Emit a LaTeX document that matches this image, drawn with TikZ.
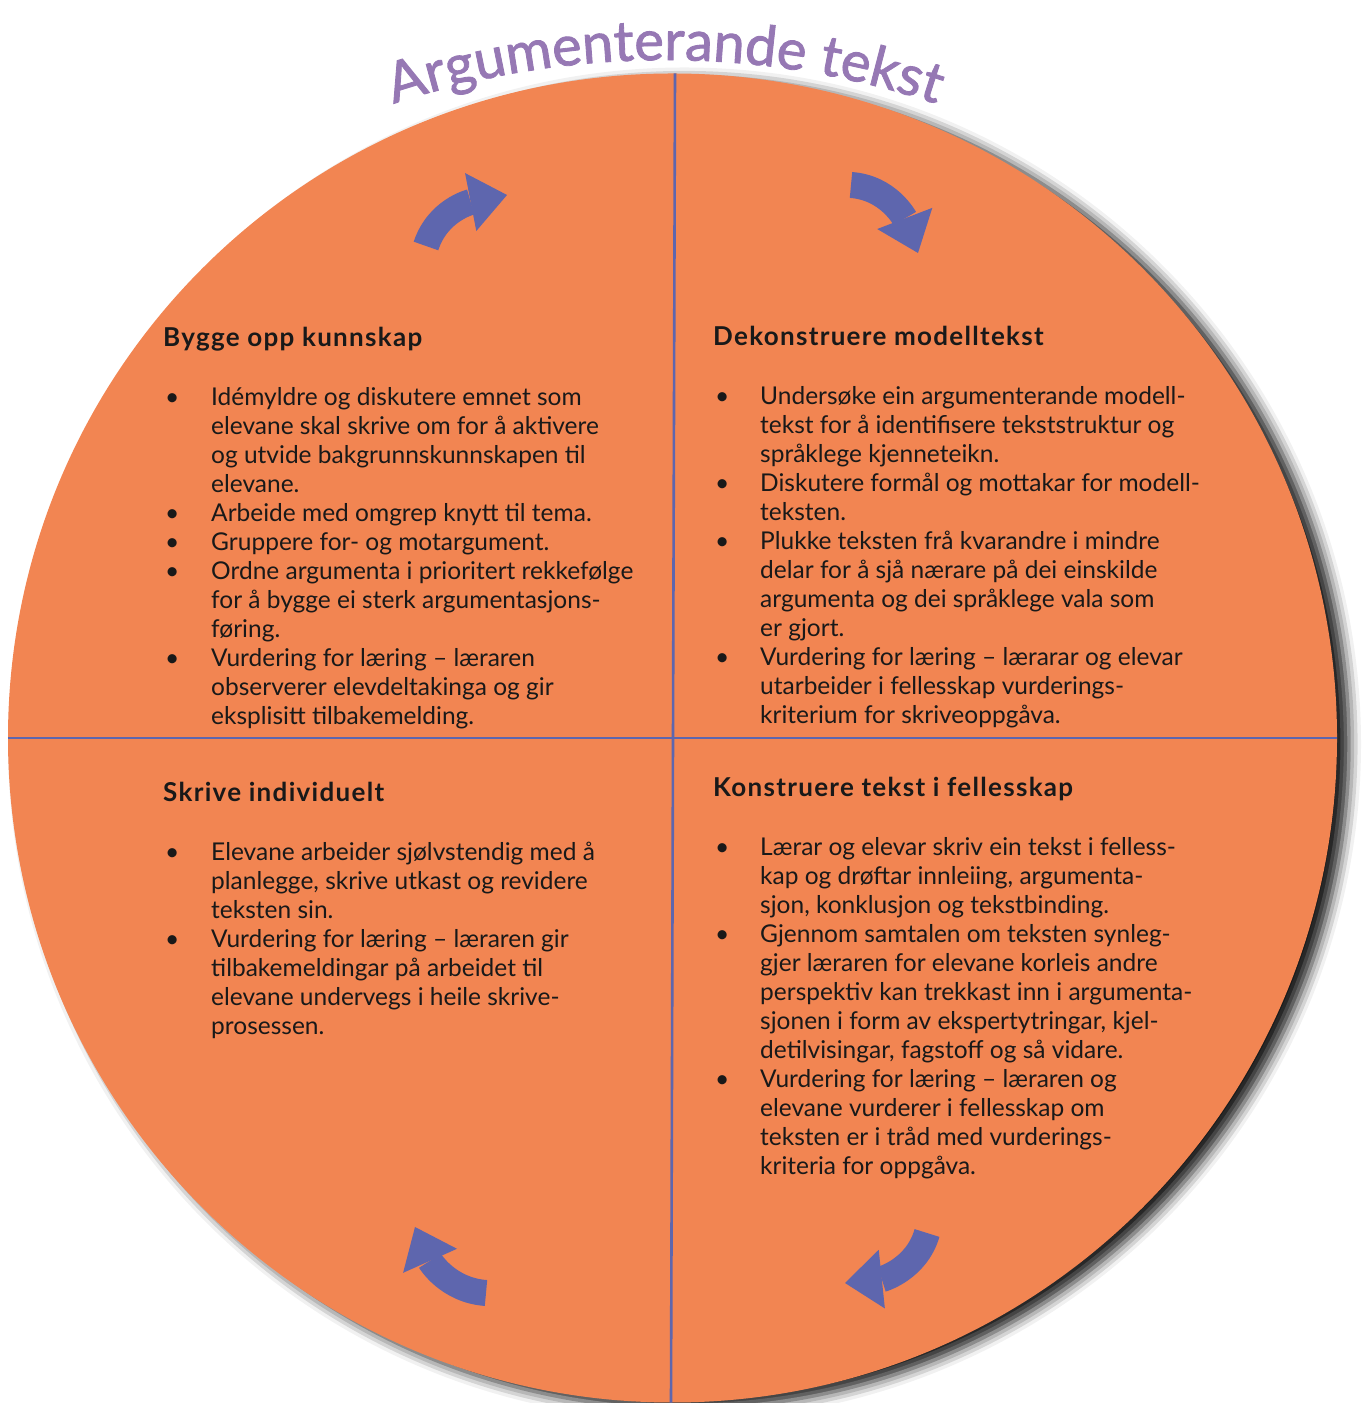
\documentclass[tikz,border=0pt]{standalone}
\usepackage{fontspec}
\setmainfont{Lato}
\newfontfamily\tittelfam[FakeBold=1.5]{Lato}
\usetikzlibrary{arrows.meta,decorations.text,shadows.blur}
\definecolor{oransje}{RGB}{242,133,82}
\definecolor{blaa}{RGB}{94,102,174}
\definecolor{lilla}{RGB}{150,120,180}
\newcommand{\pkt}{\hspace*{2pt}\textbullet}
\newcommand{\tittelfont}{\tittelfam\fontsize{56}{56}\selectfont}
\newcommand{\overskrift}[1]{\multicolumn{2}{@{}l@{}}{\fontsize{26}{29}\selectfont\bfseries\addfontfeature{LetterSpace=5}#1}}

\begin{document}
\begin{tikzpicture}[x=1pt,y=1pt,
  felt/.style={anchor=base west, inner sep=0pt, font=\fontsize{24.5}{29}\selectfont, text=black!90},
  pil/.style={draw=blaa, line width=26pt, -{Triangle[width=59pt,length=37pt,line width=0pt]}},
  skilje/.style={draw=blaa, line width=2.6pt}]
\useasboundingbox (0,0) rectangle (1366,1403);
\node[circle, fill=oransje, minimum size=1329pt, inner sep=0pt,
  blur shadow={shadow xshift=12pt, shadow yshift=-6pt, shadow blur radius=12pt, shadow opacity=90}]
  (sirkel) at (672.5,665) {};
\draw[skilje] (sirkel.west) -- (sirkel.east);
\draw[skilje] ([xshift=2.5pt]sirkel.north) -- ([xshift=-1.5pt]sirkel.south);

\path[decorate, decoration={text along path, text={|\tittelfont|Argumenterande tekst},
  text align=center, text color=lilla}]
  (665,483) ++(125:860pt) arc[start angle=125, end angle=55, radius=860pt];

\draw[pil] (426,1157) to[out=72,in=191] (507,1208);
\draw[pil] (851,1218) to[out=-4,in=111] (918,1150);
\draw[pil] (927,170) to[out=254,in=6] (845,120);
\draw[pil] (486,110) to[out=176,in=-66] (415,176);

\node[felt] (bygge) at (163,1056) {\begin{tabular}[t]{@{}p{48pt}@{}l@{}}
\overskrift{Bygge opp kunnskap}\\[30pt]
\pkt & Idémyldre og diskutere emnet som\\
 & elevane skal skrive om for å aktivere\\
 & og utvide bakgrunnskunnskapen til\\
 & elevane.\\
\pkt & Arbeide med omgrep knytt til tema.\\
\pkt & Gruppere for- og motargument.\\
\pkt & Ordne argumenta i prioritert rekkefølge\\
 & for å bygge ei sterk argumentasjons-\\
 & føring.\\
\pkt & Vurdering for læring – læraren\\
 & observerer elevdeltakinga og gir\\
 & eksplisitt tilbakemelding.
\end{tabular}};

\node[felt] (dekonstruere) at (713,1057) {\begin{tabular}[t]{@{}p{47pt}@{}l@{}}
\overskrift{Dekonstruere modelltekst}\\[30pt]
\pkt & Undersøke ein argumenterande modell-\\
 & tekst for å identifisere tekststruktur og\\
 & språklege kjenneteikn.\\
\pkt & Diskutere formål og mottakar for modell-\\
 & teksten.\\
\pkt & Plukke teksten frå kvarandre i mindre\\
 & delar for å sjå nærare på dei einskilde\\
 & argumenta og dei språklege vala som\\
 & er gjort.\\
\pkt & Vurdering for læring – lærarar og elevar\\
 & utarbeider i fellesskap vurderings-\\
 & kriterium for skriveoppgåva.
\end{tabular}};

\node[felt] (skrive) at (163,601) {\begin{tabular}[t]{@{}p{48pt}@{}l@{}}
\overskrift{Skrive individuelt}\\[30pt]
\pkt & Elevane arbeider sjølvstendig med å\\
 & planlegge, skrive utkast og revidere\\
 & teksten sin.\\
\pkt & Vurdering for læring – læraren gir\\
 & tilbakemeldingar på arbeidet til\\
 & elevane undervegs i heile skrive-\\
 & prosessen.
\end{tabular}};

\node[felt] (konstruere) at (713,606) {\begin{tabular}[t]{@{}p{47pt}@{}l@{}}
\overskrift{Konstruere tekst i fellesskap}\\[30pt]
\pkt & Lærar og elevar skriv ein tekst i felless-\\
 & kap og drøftar innleiing, argumenta-\\
 & sjon, konklusjon og tekstbinding.\\
\pkt & Gjennom samtalen om teksten synleg-\\
 & gjer læraren for elevane korleis andre\\
 & perspektiv kan trekkast inn i argumenta-\\
 & sjonen i form av ekspertytringar, kjel-\\
 & detilvisingar, fagstoff og så vidare.\\
\pkt & Vurdering for læring – læraren og\\
 & elevane vurderer i fellesskap om\\
 & teksten er i tråd med vurderings-\\
 & kriteria for oppgåva.
\end{tabular}};
\end{tikzpicture}
\end{document}
